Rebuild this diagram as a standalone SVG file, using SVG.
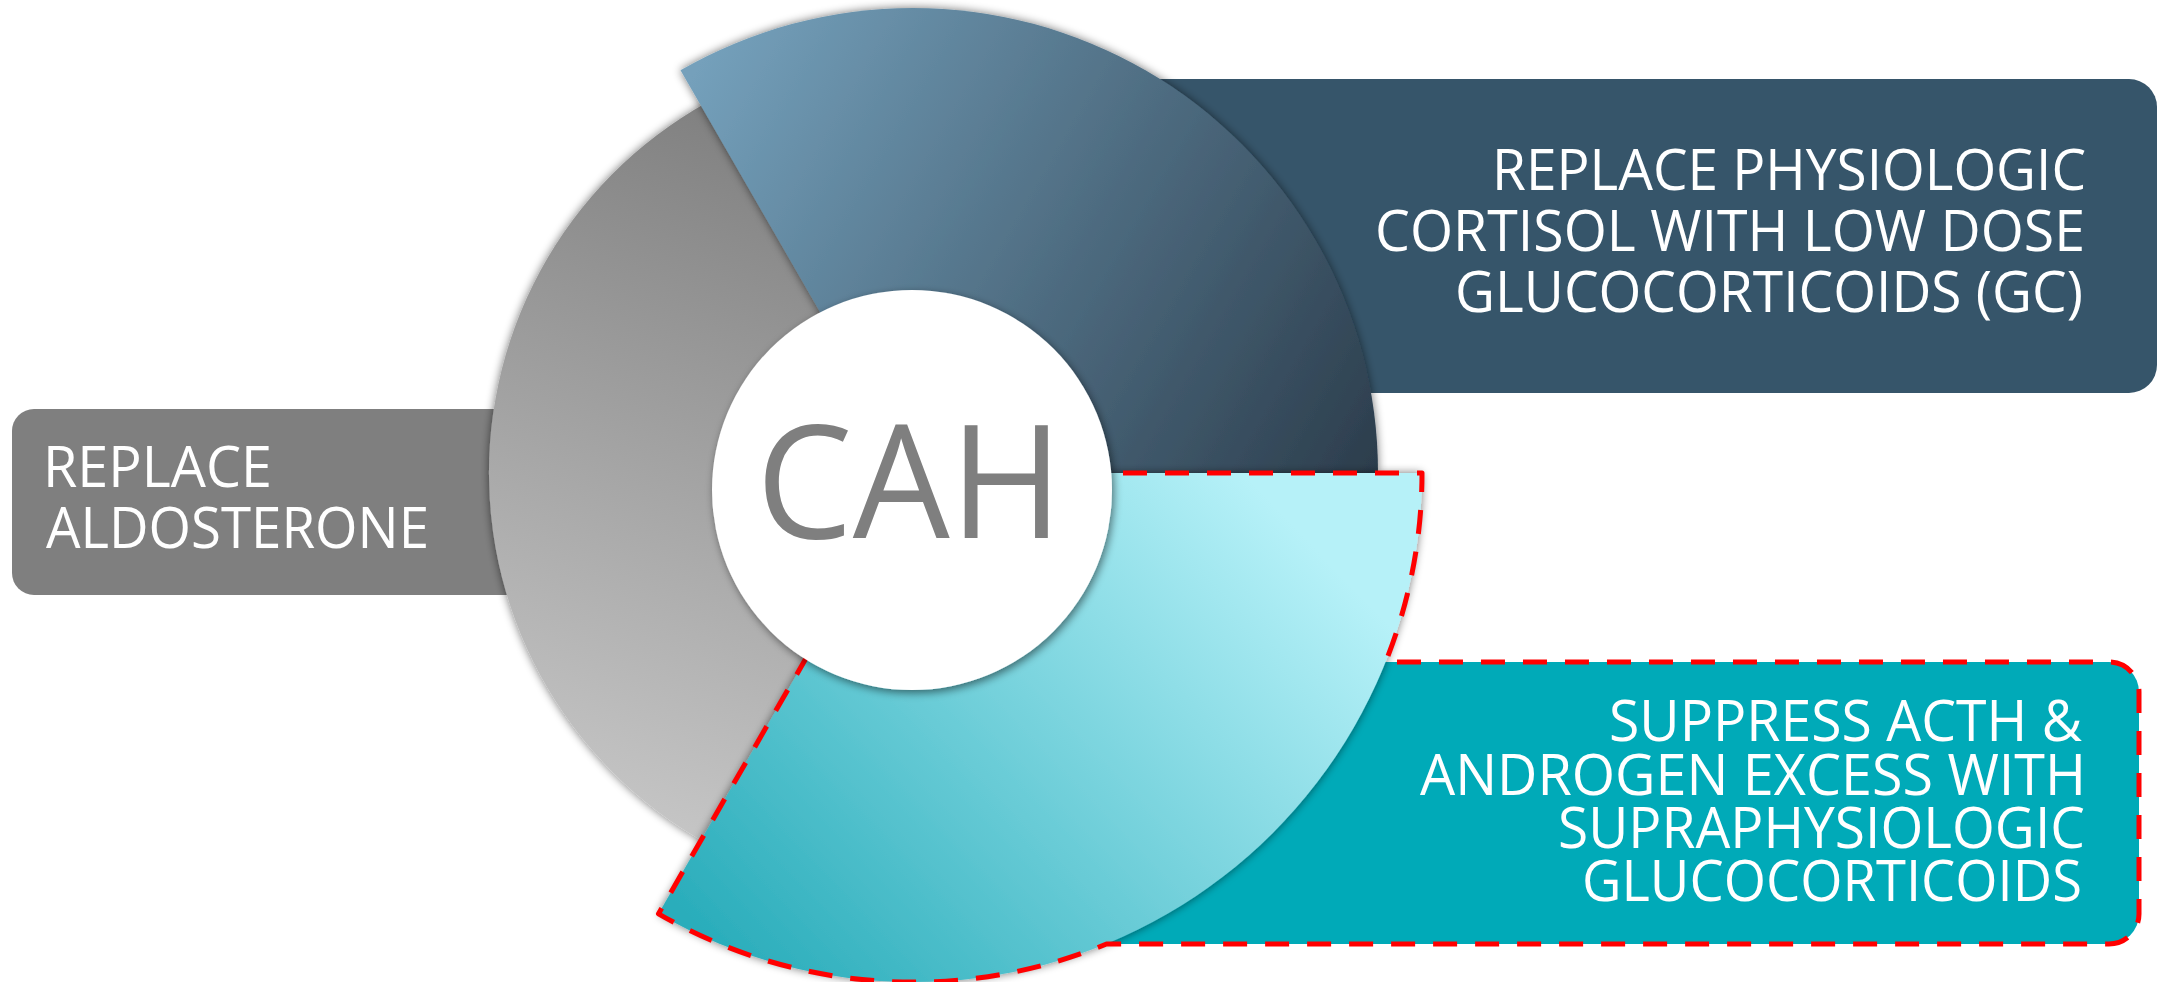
<svg xmlns="http://www.w3.org/2000/svg" width="2170" height="982" viewBox="0 0 2170 982">
  <defs>
    <style>
      .lbl { font-family: "Open Sans", "Noto Sans", "DejaVu Sans", sans-serif; font-size: 57px; fill: #ffffff; }
      .cah { font-family: "Open Sans", "Noto Sans", "DejaVu Sans", sans-serif; font-size: 158px; fill: #7f7f7f; }
      .hl { fill: none; stroke: #ff0000; stroke-width: 5; stroke-dasharray: 24 18; stroke-linejoin: round; }
    </style>
    <linearGradient id="gBlue" gradientUnits="userSpaceOnUse" x1="690" y1="80" x2="1380" y2="480">
      <stop offset="0" stop-color="#74a0bb"/>
      <stop offset="1" stop-color="#2b3c4b"/>
    </linearGradient>
    <linearGradient id="gTeal" gradientUnits="userSpaceOnUse" x1="1240" y1="470" x2="730" y2="960">
      <stop offset="0" stop-color="#b6f1f8"/>
      <stop offset="1" stop-color="#2aadbb"/>
    </linearGradient>
    <linearGradient id="gGray" gradientUnits="userSpaceOnUse" x1="860" y1="110" x2="600" y2="850">
      <stop offset="0" stop-color="#7c7c7c"/>
      <stop offset="1" stop-color="#c9c9c9"/>
    </linearGradient>
    <filter id="shadow" x="-10%" y="-10%" width="120%" height="120%">
      <feGaussianBlur in="SourceAlpha" stdDeviation="5"/>
      <feComponentTransfer><feFuncA type="linear" slope="0.55"/></feComponentTransfer>
      <feMerge><feMergeNode/><feMergeNode in="SourceGraphic"/></feMerge>
    </filter>
    <filter id="shadowCircle" x="-10%" y="-10%" width="120%" height="120%">
      <feGaussianBlur in="SourceAlpha" stdDeviation="4"/>
      <feOffset dx="2" dy="3"/>
      <feComponentTransfer><feFuncA type="linear" slope="0.5"/></feComponentTransfer>
      <feMerge><feMergeNode/><feMergeNode in="SourceGraphic"/></feMerge>
    </filter>
  </defs>

  <!-- label boxes behind the ring -->
  <g id="box-gc-physiologic">
    <rect x="1000" y="79" width="1157" height="314" rx="28" fill="#36556a"/>
  </g>
  <g id="box-aldosterone">
    <rect x="12" y="409" width="588" height="186" rx="22" fill="#7f7f7f"/>
  </g>
  <g id="box-gc-supraphysiologic">
    <rect x="1000" y="662" width="1139" height="282" rx="30" fill="#00aab8"/>
  </g>

  <!-- ring segments, common centre 913,473 -->
  <g id="segment-aldosterone">
    <path d="M913,473 L733.8,88.7 A424,424 0 0 0 733.8,857.3 Z" fill="url(#gGray)" filter="url(#shadow)"/>
  </g>
  <g id="segment-gc-physiologic">
    <path d="M913,473 L1378,473 A465,465 0 0 0 680.5,70.3 Z" fill="url(#gBlue)" filter="url(#shadow)"/>
  </g>
  <g id="segment-gc-supraphysiologic">
    <path d="M913,473 L1422,473 A509,509 0 0 1 658.5,913.8 Z" fill="url(#gTeal)" filter="url(#shadow)"/>
  </g>

  <!-- dashed highlight around the supraphysiologic segment and its box -->
  <g id="highlight">
    <path class="hl" d="M913,473 L1422,473 A509,509 0 0 1 1385.6,662 L2109,662 A30,30 0 0 1 2139,692 L2139,914 A30,30 0 0 1 2109,944 L1106.5,944 A509,509 0 0 1 658.5,913.8 Z"/>
  </g>

  <!-- centre disc -->
  <g id="node-cah">
    <circle cx="912" cy="490" r="200" fill="#ffffff" filter="url(#shadowCircle)"/>
    <text class="cah" x="756" y="538" textLength="307" lengthAdjust="spacingAndGlyphs">CAH</text>
  </g>

  <!-- labels: one text element per box, one tspan per line -->
  <g id="label-gc-physiologic">
    <text class="lbl">
      <tspan x="1492" y="190" textLength="594" lengthAdjust="spacingAndGlyphs">REPLACE PHYSIOLOGIC</tspan>
      <tspan x="1375" y="251" textLength="710" lengthAdjust="spacingAndGlyphs">CORTISOL WITH LOW DOSE</tspan>
      <tspan x="1455" y="312" textLength="628" lengthAdjust="spacingAndGlyphs">GLUCOCORTICOIDS (GC)</tspan>
    </text>
  </g>
  <g id="label-aldosterone">
    <text class="lbl">
      <tspan x="43" y="487" textLength="229" lengthAdjust="spacingAndGlyphs">REPLACE</tspan>
      <tspan x="46" y="548" textLength="383" lengthAdjust="spacingAndGlyphs">ALDOSTERONE</tspan>
    </text>
  </g>
  <g id="label-gc-supraphysiologic">
    <text class="lbl" font-size="56">
      <tspan x="1609" y="741" textLength="473" lengthAdjust="spacingAndGlyphs">SUPPRESS ACTH &amp;</tspan>
      <tspan x="1420" y="795" textLength="666" lengthAdjust="spacingAndGlyphs">ANDROGEN EXCESS WITH</tspan>
      <tspan x="1558" y="848" textLength="527" lengthAdjust="spacingAndGlyphs">SUPRAPHYSIOLOGIC</tspan>
      <tspan x="1582" y="901" textLength="500" lengthAdjust="spacingAndGlyphs">GLUCOCORTICOIDS</tspan>
    </text>
  </g>
</svg>
